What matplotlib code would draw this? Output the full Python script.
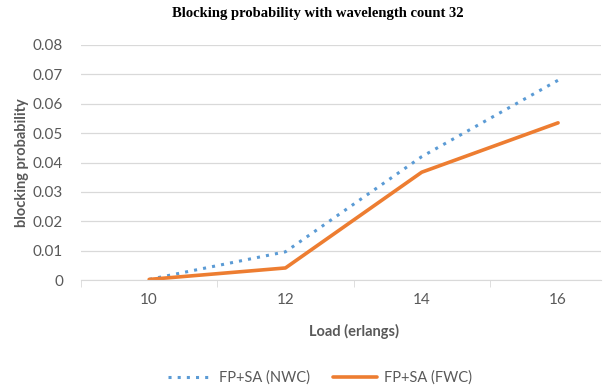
import matplotlib.pyplot as plt

loads = ["10", "12", "14", "16"]
nwc = [0.0002, 0.0096, 0.042, 0.068]
fwc = [0.0002, 0.0041, 0.0367, 0.0535]

grey = "#595959"
plt.rcParams["font.family"] = ["Lato", "DejaVu Sans"]

fig = plt.figure(figsize=(6.09, 3.92), dpi=100)
# plot area: 81..601 px wide, 45..280 px tall (right end of the category axis is cut off)
ax = fig.add_axes([81 / 609, 1 - 280 / 392, 520 / 609, 235 / 392])

x = range(len(loads))
ax.plot(x, nwc, color="#5b9bd5", lw=2.2, linestyle=(0, (1, 2)), label="FP+SA (NWC)")
ax.plot(x, fwc, color="#ed7d31", lw=2.6, label="FP+SA (FWC)", solid_capstyle="round")

ax.set_xlim(-0.5, 3.315)
ax.set_ylim(0, 0.08)
ax.set_yticks([i / 100 for i in range(9)])
ax.set_yticklabels(["0"] + [f"{i / 100:.2f}" for i in range(1, 9)])
ax.set_xticks(list(x))
ax.set_xticklabels(loads)
ax.set_xticks([i - 0.5 for i in range(len(loads))], minor=True)

ax.grid(axis="y", color="#d9d9d9", lw=0.9)
ax.set_axisbelow(True)
for s in ["top", "right", "left"]:
    ax.spines[s].set_visible(False)
ax.spines["bottom"].set_color("#d9d9d9")
ax.tick_params(axis="y", length=0, colors=grey, labelsize=11, pad=13)
ax.tick_params(axis="x", which="major", length=0, colors=grey, labelsize=11, pad=9)
ax.tick_params(axis="x", which="minor", length=5, color="#d9d9d9")

ax.set_xlabel("Load (erlangs)", color=grey, fontsize=10.5, fontweight="bold")
ax.xaxis.set_label_coords(0.525, -0.185)
ax.set_ylabel("blocking probability", color=grey, fontsize=10.5, fontweight="bold")
ax.yaxis.set_label_coords(-0.1, 0.5)
fig.text(318 / 609, 1 - 14 / 392, "Blocking probability with wavelength count 32", ha="center",
         va="center", fontsize=10.5, fontweight="bold", family="Liberation Serif")

fig.legend(loc="center", bbox_to_anchor=(320 / 609, 0.036), ncol=2, frameon=False,
           fontsize=10.5, labelcolor=grey, handlelength=3.0, handletextpad=0.5,
           columnspacing=1.6)

fig.savefig("out.png", dpi=100)
